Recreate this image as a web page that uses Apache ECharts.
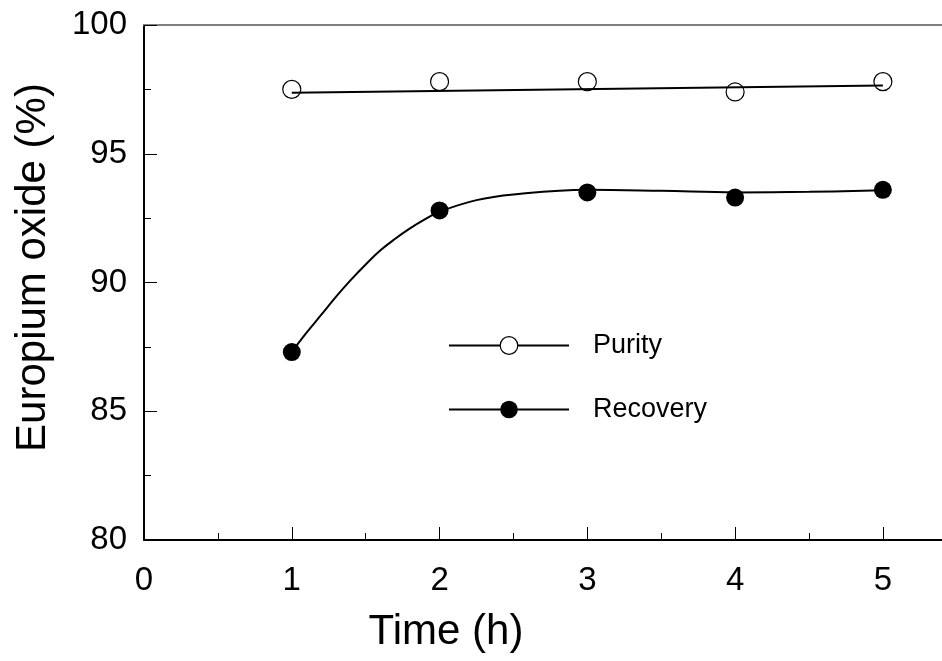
<!DOCTYPE html>
<html>
<head>
<meta charset="utf-8">
<script src="https://cdn.jsdelivr.net/npm/echarts@6/dist/echarts.min.js"></script>
<style>
  html, body { margin: 0; padding: 0; background: #fff; }
  #chart { width: 942px; height: 661px; }
</style>
</head>
<body>
<div id="chart"></div>
<script>
// measured points
const times = [1, 2, 3, 4, 5];
const purity = [97.5, 97.8, 97.8, 97.4, 97.8];
const recovery = [87.3, 92.8, 93.5, 93.3, 93.6];

// fitted lines
const purityFitX = [1, 5];
const purityFitY = [97.37, 97.65];
const recoveryFitX = [1, 1.1, 1.2, 1.3, 1.4, 1.5, 1.6, 1.7, 1.8, 1.9, 2, 2.25, 2.5, 3, 3.5, 4, 4.5, 5];
const recoveryFitY = [87.3, 88.05, 88.75, 89.45, 90.1, 90.7, 91.25, 91.7, 92.1, 92.45, 92.75, 93.2, 93.42, 93.6, 93.56, 93.5, 93.52, 93.58];

// axis ticks
const xMajorTicks = [0, 1, 2, 3, 4, 5];
const xMinorTicks = [0.5, 1.5, 2.5, 3.5, 4.5];

const zip = (xs, ys) => xs.map((x, i) => [x, ys[i]]);

const font = 'Arial, "Liberation Sans", sans-serif';
const chart = echarts.init(document.getElementById("chart"), null, { renderer: "canvas" });

const option = {
  backgroundColor: "#fff",
  animation: false,
  textStyle: { fontFamily: font, color: "#000" },
  grid: { left: 144, right: 0, top: 25, bottom: 121, containLabel: false, outerBoundsMode: "none" },
  legend: {
    orient: "vertical",
    left: 448,
    top: 332,
    padding: 0,
    itemWidth: 120,
    itemHeight: 22,
    itemGap: 37,
    selectedMode: false,
    textStyle: { fontFamily: font, fontSize: 27, color: "#000", padding: [0, 0, 0, 19] },
    data: [
      { name: "Purity", itemStyle: { color: "#fff", borderColor: "#000", borderWidth: 1.2, opacity: 1 } },
      { name: "Recovery", itemStyle: { color: "#000", borderWidth: 0, opacity: 1 } },
    ],
  },
  xAxis: [
    {
      type: "value",
      position: "bottom",
      min: 0,
      max: 5.4,
      interval: 1,
      name: "Time (h)",
      nameLocation: "middle",
      nameGap: 71,
      nameTextStyle: { fontFamily: font, fontSize: 42, color: "#000", padding: [0, 194, 0, 0] },
      axisLine: { show: true, lineStyle: { color: "#000", width: 2 } },
      axisTick: { show: true, inside: true, length: 13, customValues: xMajorTicks, lineStyle: { color: "#000", width: 1 } },
      axisLabel: { fontFamily: font, fontSize: 33, color: "#000", margin: 24, customValues: xMajorTicks },
      splitLine: { show: false },
    },
    {
      type: "value",
      position: "bottom",
      min: 0,
      max: 5.4,
      interval: 1,
      axisLine: { show: false },
      axisTick: { show: true, inside: true, length: 7, customValues: xMinorTicks, lineStyle: { color: "#000", width: 1 } },
      axisLabel: { show: false },
      splitLine: { show: false },
    },
    {
      type: "value",
      position: "top",
      min: 0,
      max: 5.4,
      axisLine: { show: true, lineStyle: { color: "#808080", width: 2 } },
      axisTick: { show: false },
      axisLabel: { show: false },
      splitLine: { show: false },
    },
  ],
  yAxis: {
    type: "value",
    min: 80,
    max: 100,
    interval: 5,
    name: "Europium oxide (%)",
    nameLocation: "middle",
    nameGap: 90,
    nameTextStyle: { fontFamily: font, fontSize: 42, color: "#000", padding: [0, 0, 0, 30] },
    axisLine: { show: true, lineStyle: { color: "#000", width: 2 } },
    axisTick: { show: true, inside: true, length: 13, lineStyle: { color: "#000", width: 1 } },
    minorTick: { show: true, splitNumber: 2, length: 7, lineStyle: { color: "#000", width: 1 } },
    axisLabel: { fontFamily: font, fontSize: 33, color: "#000", margin: 17 },
    splitLine: { show: false },
  },
  series: [
    {
      name: "Purity",
      type: "line",
      data: zip(purityFitX, purityFitY),
      symbol: "circle",
      showSymbol: false,
      lineStyle: { color: "#000", width: 2 },
      itemStyle: { color: "#000" },
      z: 3,
    },
    {
      name: "Recovery",
      type: "line",
      data: zip(recoveryFitX, recoveryFitY),
      symbol: "circle",
      showSymbol: false,
      smooth: 0.4,
      lineStyle: { color: "#000", width: 2 },
      itemStyle: { color: "#000" },
      z: 3,
    },
    {
      name: "Purity",
      type: "scatter",
      data: zip(times, purity),
      symbol: "circle",
      symbolSize: 18,
      itemStyle: { color: "rgba(0,0,0,0)", borderColor: "#000", borderWidth: 1.2, opacity: 1 },
      z: 2,
    },
    {
      name: "Recovery",
      type: "scatter",
      data: zip(times, recovery),
      symbol: "circle",
      symbolSize: 18,
      itemStyle: { color: "#000", opacity: 1 },
      z: 4,
    },
  ],
};

chart.setOption(option);
</script>
</body>
</html>
